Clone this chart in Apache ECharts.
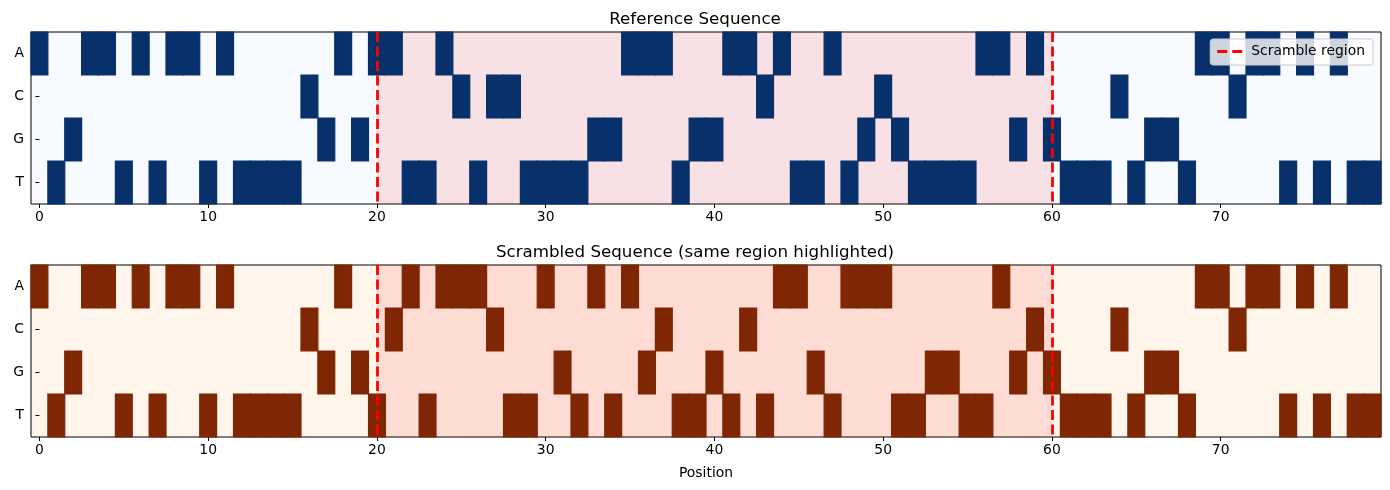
<!DOCTYPE html>
<html>
<head>
<meta charset="utf-8">
<script src="https://cdn.jsdelivr.net/npm/echarts@6/dist/echarts.min.js"></script>
<style>
  body { margin: 0; background: #fff; }
  #chart { width: 1390px; height: 490px; }
</style>
</head>
<body>
<div id="chart"></div>
<script>
// nucleotide rows, top to bottom
const bases = ['A', 'C', 'G', 'T'];
const tickValues = [0, 10, 20, 30, 40, 50, 60, 70];

const referenceSeq = [
  'A','T','G','A','A','T','A','T','A','A','T','A','T','T','T','T','C','G','A','G',
  'A','A','T','T','A','C','T','C','C','T','T','T','T','G','G','A','A','A','T','G',
  'G','A','A','C','A','T','T','A','T','G','C','G','T','T','T','T','A','A','G','A',
  'G','T','T','T','C','T','G','G','T','A','A','C','A','A','T','A','T','A','T','T'
];
const scrambledSeq = [
  'A','T','G','A','A','T','A','T','A','A','T','A','T','T','T','T','C','G','A','G',
  'T','C','A','T','A','A','A','C','T','T','A','G','T','A','T','A','G','C','T','T',
  'G','T','C','T','A','A','G','T','A','A','A','T','T','G','G','T','T','A','G','C',
  'G','T','T','T','C','T','G','G','T','A','A','C','A','A','T','A','T','A','T','T'
];
const scrambleStart = 20;
const scrambleEnd = 60;

const FONT = 'DejaVu Sans';
const DASH = [10, 4.5];

function toCells(seq) {
  return seq.map((b, i) => [i, bases.indexOf(b)]);
}

function renderCell(params, api) {
  const x = api.value(0);
  const row = api.value(1);
  const p0 = api.coord([x - 0.5, row]);
  const p1 = api.coord([x + 0.5, row]);
  const h = api.size([0, 1])[1];
  const c = api.visual('color');
  return {
    type: 'rect',
    shape: { x: p0[0], y: p0[1] - h / 2, width: p1[0] - p0[0], height: h },
    style: { fill: c, stroke: c, lineWidth: 1.2 }
  };
}

function xAxisFor(idx, withName) {
  return {
    type: 'value', gridIndex: idx, min: -0.5, max: 79.5,
    splitLine: { show: false },
    axisLine: { show: false },
    axisTick: { show: true, length: 4, customValues: tickValues, lineStyle: { color: '#000' } },
    axisLabel: { customValues: tickValues, color: '#000', fontFamily: FONT, fontSize: 13.9, margin: 6 },
    name: withName ? 'Position' : '',
    nameLocation: 'middle', nameGap: 29,
    nameTextStyle: { color: '#000', fontFamily: FONT, fontSize: 13.9 }
  };
}

function yAxisFor(idx) {
  return {
    type: 'category', gridIndex: idx, data: bases, inverse: true,
    axisLine: { show: false },
    axisTick: { show: true, length: 4, alignWithLabel: true, lineStyle: { color: '#000' } },
    axisLabel: { color: '#000', fontFamily: FONT, fontSize: 13.9, margin: 7 },
    splitLine: { show: false }
  };
}

function spanSeries(idx) {
  return {
    name: 'Scramble region', type: 'line', xAxisIndex: idx, yAxisIndex: idx,
    data: [], symbol: 'none', z: 5,
    lineStyle: { color: 'red', width: 2.8, type: DASH },
    itemStyle: { color: 'red' },
    markArea: {
      silent: true,
      itemStyle: { color: 'rgba(255,0,0,0.1)' },
      data: [[{ xAxis: scrambleStart }, { xAxis: scrambleEnd }]]
    },
    markLine: {
      silent: true, symbol: 'none', label: { show: false },
      lineStyle: { color: 'red', width: 2.8, type: DASH },
      data: [{ xAxis: scrambleStart }, { xAxis: scrambleEnd }]
    }
  };
}

const chart = echarts.init(document.getElementById('chart'));
chart.setOption({
  animation: false,
  title: [
    { text: 'Reference Sequence', left: 'center', top: 6,
      textStyle: { fontFamily: FONT, fontSize: 16.7, fontWeight: 'normal', color: '#000' } },
    { text: 'Scrambled Sequence (same region highlighted)', left: 'center', top: 239,
      textStyle: { fontFamily: FONT, fontSize: 16.7, fontWeight: 'normal', color: '#000' } }
  ],
  legend: {
    data: [{ name: 'Scramble region', icon: 'path://M0,0H10V3H0Z M15,0H25V3H15Z' }],
    right: 17, top: 39,
    itemWidth: 25, itemHeight: 3, itemGap: 10, padding: [4, 8, 5, 7],
    backgroundColor: 'rgba(255,255,255,0.8)', borderColor: '#cccccc', borderWidth: 1, borderRadius: 3,
    itemStyle: { color: 'red' },
    textStyle: { fontFamily: FONT, fontSize: 13.9, color: '#000', lineHeight: 17, padding: [0, 0, 0, 4] }
  },
  grid: [
    { left: 31, top: 32, width: 1350, height: 172, show: true,
      backgroundColor: '#f7fbff', borderColor: '#000', borderWidth: 1 },
    { left: 31, top: 265, width: 1350, height: 172, show: true,
      backgroundColor: '#fff5eb', borderColor: '#000', borderWidth: 1 }
  ],
  xAxis: [xAxisFor(0, false), xAxisFor(1, true)],
  yAxis: [yAxisFor(0), yAxisFor(1)],
  series: [
    { type: 'custom', name: 'reference', xAxisIndex: 0, yAxisIndex: 0, z: 2,
      itemStyle: { color: '#08306b' }, renderItem: renderCell,
      encode: { x: 0, y: 1 }, data: toCells(referenceSeq) },
    { type: 'custom', name: 'scrambled', xAxisIndex: 1, yAxisIndex: 1, z: 2,
      itemStyle: { color: '#7f2704' }, renderItem: renderCell,
      encode: { x: 0, y: 1 }, data: toCells(scrambledSeq) },
    spanSeries(0),
    spanSeries(1)
  ]
});
</script>
</body>
</html>
